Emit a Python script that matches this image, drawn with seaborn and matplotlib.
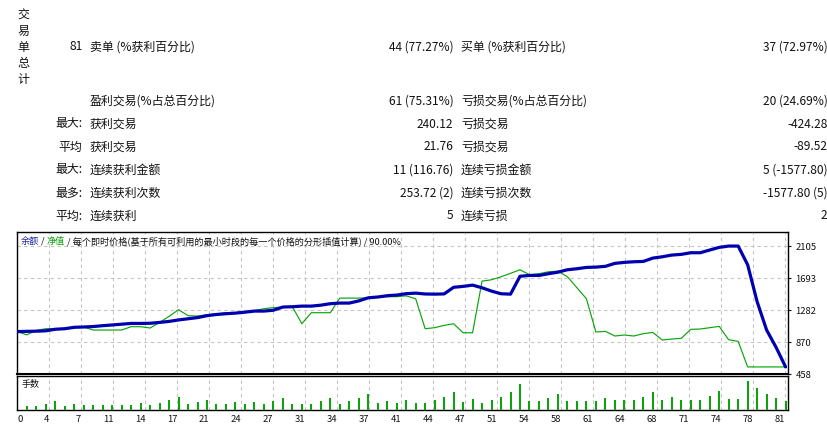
import matplotlib
matplotlib.use("Agg")
import matplotlib.pyplot as plt
import numpy as np
import pandas as pd
import seaborn as sns

# ---------------- data ----------------
trade_idx = list(range(82))
balance = [1000, 1003, 1005, 1010, 1030, 1037, 1055, 1059, 1065, 1076,
           1085, 1095, 1105, 1105, 1107, 1118, 1131, 1150, 1165, 1180,
           1205, 1220, 1230, 1238, 1250, 1264, 1264, 1275, 1316, 1320,
           1328, 1328, 1340, 1359, 1367, 1367, 1395, 1435, 1445, 1462,
           1470, 1488, 1495, 1484, 1482, 1485, 1570, 1582, 1598, 1564,
           1521, 1487, 1482, 1712, 1723, 1723, 1745, 1765, 1796, 1809,
           1826, 1830, 1840, 1878, 1891, 1899, 1903, 1946, 1963, 1985,
           1994, 2015, 2015, 2050, 2084, 2101, 2101, 1860, 1385, 1020,
           797, 545]
equity = [1000, 958, 1015, 1037, 1037, 1040, 1055, 1059, 1020, 1020,
          1020, 1020, 1063, 1063, 1046, 1118, 1196, 1282, 1205, 1200,
          1217, 1228, 1243, 1245, 1252, 1270, 1295, 1308, 1316, 1320,
          1102, 1243, 1243, 1243, 1431, 1431, 1431, 1435, 1445, 1449,
          1449, 1460, 1423, 1037, 1050, 1080, 1101, 985, 985, 1650,
          1667, 1706, 1750, 1796, 1732, 1745, 1770, 1778, 1706, 1565,
          1423, 994, 1003, 943, 956, 943, 973, 990, 891, 904,
          913, 1029, 1033, 1050, 1067, 895, 874, 545, 545, 545,
          545, 545]
lot_idx = list(range(1, 82))
lots = [0.04, 0.04, 0.06, 0.09, 0.04, 0.06, 0.05, 0.05, 0.05, 0.05,
        0.05, 0.05, 0.07, 0.05, 0.07, 0.10, 0.13, 0.06, 0.08, 0.10,
        0.06, 0.06, 0.08, 0.06, 0.08, 0.06, 0.09, 0.12, 0.06, 0.06,
        0.06, 0.09, 0.12, 0.06, 0.09, 0.12, 0.16, 0.07, 0.09, 0.07,
        0.10, 0.07, 0.07, 0.10, 0.13, 0.18, 0.08, 0.11, 0.07, 0.10,
        0.13, 0.18, 0.26, 0.09, 0.09, 0.12, 0.16, 0.09, 0.09, 0.09,
        0.09, 0.12, 0.10, 0.10, 0.10, 0.13, 0.18, 0.10, 0.13, 0.10,
        0.10, 0.10, 0.14, 0.19, 0.11, 0.11, 0.29, 0.22, 0.16, 0.12,
        0.09]
xtick_labels = ["0", "4", "7", "11", "14", "17", "21", "24", "27", "31", "34", "37",
                "41", "44", "47", "51", "54", "58", "61", "64", "68", "71", "74", "78", "81"]
ytick_values = [458, 870, 1282, 1693, 2105]

side_title = "交易单总计"
total_trades = "81"
row_left_head = ["", "", "最大:", "平均", "最大:", "最多:", "平均:"]
row_left_label = ["卖单 (%获利百分比)", "盈利交易(%占总百分比)", "获利交易", "获利交易",
                  "连续获利金额", "连续获利次数", "连续获利"]
row_left_value = ["44 (77.27%)", "61 (75.31%)", "240.12", "21.76",
                  "11 (116.76)", "253.72 (2)", "5"]
row_right_label = ["买单 (%获利百分比)", "亏损交易(%占总百分比)", "亏损交易", "亏损交易",
                   "连续亏损金额", "连续亏损次数", "连续亏损"]
row_right_value = ["37 (72.97%)", "20 (24.69%)", "-424.28", "-89.52",
                   "5 (-1577.80)", "-1577.80 (5)", "2"]
chart_title_parts = ["余额", " / ", "净值", " / 每个即时价格(基于所有可利用的最小时段的每一个价格的分形插值计算) / 90.00%"]
vol_label = "手数"

# ---------------- style ----------------
sns.set_style("white")
plt.rcParams['font.family'] = ['Noto Sans CJK SC', 'DejaVu Sans']
plt.rcParams['axes.unicode_minus'] = False

W, H = 828, 427
fig = plt.figure(figsize=(W / 100, H / 100), dpi=100)
fig.patch.set_facecolor("white")

BLUE = "#0000B0"
GREEN = "#0AA50A"
GRID = "#C4C4C4"
TXT = "#111111"


def fx(px):
    return px / W


def fy(py):
    return 1 - py / H


# ---------------- summary text ----------------
fs = 8.6
for i, ch in enumerate(side_title):
    fig.text(fx(23), fy(15.5 + i * 16), ch, ha="center", va="center", fontsize=fs, color=TXT)

row_y = [47, 101, 124, 147, 170, 193, 216]
for i, y in enumerate(row_y):
    head = total_trades if i == 0 else row_left_head[i]
    if head:
        fig.text(fx(82.5), fy(y), head, ha="right", va="center", fontsize=fs, color=TXT)
    fig.text(fx(90), fy(y), row_left_label[i], ha="left", va="center", fontsize=fs, color=TXT)
    fig.text(fx(453.5), fy(y), row_left_value[i], ha="right", va="center", fontsize=fs, color=TXT)
    fig.text(fx(461), fy(y), row_right_label[i], ha="left", va="center", fontsize=fs, color=TXT)
    fig.text(fx(827.5), fy(y), row_right_value[i], ha="right", va="center", fontsize=fs, color=TXT)

# ---------------- axes ----------------
x0, x1 = 17.3, 788
px_per_trade = 9.485
xmax = (x1 - x0) / px_per_trade
grid_step = 32 / px_per_trade
xt = [k * grid_step for k in range(len(xtick_labels))]

ax = fig.add_axes([fx(x0), fy(375), (x1 - x0) / W, (375 - 233) / H])
axv = fig.add_axes([fx(x0), fy(411), (x1 - x0) / W, (411 - 377) / H])

df = pd.DataFrame({"trade": trade_idx, "balance": balance, "equity": equity})
sns.lineplot(data=df, x="trade", y="equity", ax=ax, color=GREEN, linewidth=0.85, zorder=3)
sns.lineplot(data=df, x="trade", y="balance", ax=ax, color=BLUE, linewidth=2.3, zorder=4)

ax.set_xlim(0, xmax)
ax.set_ylim(454, 2282)
ax.set_xticks(xt[1:])
ax.set_yticks(ytick_values)
ax.set_yticklabels([str(v) for v in ytick_values])
ax.yaxis.tick_right()
ax.tick_params(axis="y", direction="out", length=2.5, width=0.8, pad=3,
               labelsize=6.8, colors=TXT, right=True, left=False)
ax.tick_params(axis="x", length=0, labelbottom=False)
ax.grid(True, color=GRID, linestyle=(0, (3, 3)), linewidth=0.8)
ax.set_xlabel("")
ax.set_ylabel("")
for s in ax.spines.values():
    s.set_visible(True)
    s.set_color("black")
    s.set_linewidth(1.0)
ax.spines["bottom"].set_linewidth(1.5)

# volume bars
vdf = pd.DataFrame({"trade": lot_idx, "lots": lots})
axv.vlines(vdf["trade"], 0, vdf["lots"], colors=GREEN, linewidth=1.3,
           antialiased=False, zorder=3)
axv.set_xlim(0, xmax)
axv.set_ylim(0, 0.34)
axv.set_yticks([])
axv.set_xticks(xt)
axv.set_xticklabels(xtick_labels)
axv.tick_params(axis="x", direction="out", length=2, width=0.8, pad=1,
                labelsize=6.8, colors=TXT)
for i, lab in enumerate(axv.get_xticklabels()):
    lab.set_ha("left" if i == 0 else "right")
axv.grid(True, axis="x", color=GRID, linestyle=(0, (3, 3)), linewidth=0.8)
axv.grid(False, axis="y")
for s in axv.spines.values():
    s.set_visible(True)
    s.set_color("black")
    s.set_linewidth(1.0)
axv.text(0.006, 0.78, vol_label, transform=axv.transAxes, ha="left", va="center",
         fontsize=6.5, color=TXT)

# ---------------- chart title (multi-coloured) ----------------
fig.canvas.draw()
renderer = fig.canvas.get_renderer()
cur_x = 21
colors = ["#2020A0", TXT, "#10A010", TXT]
for part, col in zip(chart_title_parts, colors):
    t = fig.text(fx(cur_x), fy(241), part, ha="left", va="center", fontsize=6.6, color=col)
    bb = t.get_window_extent(renderer=renderer)
    cur_x += bb.width

fig.savefig("out.png", dpi=100, facecolor="white")
